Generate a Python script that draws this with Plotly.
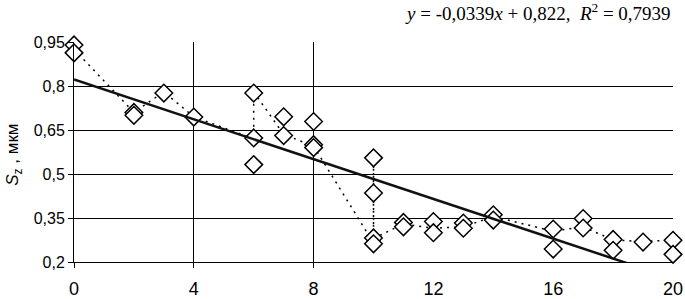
import plotly.graph_objects as go

# ---- data ----
pts_x = [0, 0, 2, 2, 3, 4, 6, 6, 6, 7, 7, 8, 8, 8, 10, 10, 10, 10,
         11, 11, 12, 12, 13, 13, 14, 14, 16, 16, 17, 17, 18, 18, 19, 20, 20]
pts_y = [0.94, 0.913, 0.71, 0.70, 0.776, 0.694, 0.776, 0.623, 0.532, 0.695, 0.631,
         0.679, 0.60, 0.59, 0.555, 0.435, 0.282, 0.262,
         0.335, 0.32, 0.338, 0.30, 0.333, 0.315, 0.361, 0.343,
         0.3125, 0.244, 0.348, 0.316, 0.277, 0.24, 0.268, 0.274, 0.226]

path_x = [0, 2, 3, 4, 6, 6, 7, 8, 10, 10, 10, 11, 12, 13, 14, 16, 17, 18, 19, 20]
path_y = [0.925, 0.71, 0.78, 0.695, 0.62, 0.78, 0.635, 0.595, 0.265, 0.555, 0.28,
          0.33, 0.315, 0.32, 0.355, 0.305, 0.32, 0.275, 0.27, 0.275]

slope = -0.0339
intercept = 0.822
r2 = 0.7939
trend_x = [0, 20]

x_tickvals = [0, 4, 8, 12, 16, 20]
x_ticktext = ["0", "4", "8", "12", "16", "20"]
y_tickvals = [0.2, 0.35, 0.5, 0.65, 0.8, 0.95]
y_ticktext = ["0,2", "0,35", "0,5", "0,65", "0,8", "0,95"]
x_gridvals = [0, 4, 8]

def fmt(v):
    return str(v).replace(".", ",")

trend_y = [slope * x + intercept for x in trend_x]

fig = go.Figure()
fig.add_trace(go.Scatter(x=path_x, y=path_y, mode="lines",
                         line=dict(color="black", width=1.5, dash="2px,5px"),
                         hoverinfo="skip", showlegend=False))
fig.add_trace(go.Scatter(x=pts_x, y=pts_y, mode="markers", cliponaxis=False,
                         marker=dict(symbol="diamond", size=13.5, color="white",
                                     line=dict(color="black", width=1.5)),
                         showlegend=False))
fig.add_trace(go.Scatter(x=trend_x, y=trend_y, mode="lines",
                         line=dict(color="#111111", width=2.5),
                         hoverinfo="skip", showlegend=False))

eq = ("<i>y</i> = " + fmt(slope) + "<i>x</i> + " + fmt(intercept) +
      ",&nbsp;&nbsp;<i>R</i><sup>2</sup> = " + fmt(r2))

fig.update_layout(
    width=685, height=299,
    margin=dict(l=74, r=12, t=42, b=37, autoexpand=False),
    paper_bgcolor="white", plot_bgcolor="white",
    font=dict(family="Liberation Sans, Arial", color="black"),
    xaxis=dict(range=[0, 20], tickmode="array", tickvals=x_tickvals, ticktext=x_ticktext,
               automargin=False,
               showgrid=False, zeroline=False, ticks="", ticklabelstandoff=10,
               showline=True, linecolor="black", linewidth=1,
               tickfont=dict(size=18, family="Liberation Sans, Arial"),
               minor=dict(tickmode="array", tickvals=x_gridvals, ticks="outside",
                          ticklen=5, tickcolor="black", tickwidth=1,
                          showgrid=True, gridcolor="black", gridwidth=1)),
    yaxis=dict(range=[0.2, 0.95], tickmode="array", tickvals=y_tickvals, ticktext=y_ticktext,
               automargin=False,
               showgrid=True, gridcolor="black", gridwidth=1, zeroline=False,
               ticks="outside", ticklen=5, tickcolor="black",
               showline=True, linecolor="black", linewidth=1,
               tickfont=dict(size=16, family="Liberation Sans, Arial")),
    annotations=[
        dict(text=eq, xref="paper", yref="paper", x=1.0, y=1.138,
             xanchor="right", yanchor="middle", showarrow=False,
             font=dict(family="Liberation Serif, Times New Roman", size=19, color="black")),
        dict(text="<i>S</i><sub>z</sub> , мкм", xref="paper", yref="paper",
             x=-0.1, y=0.488, xanchor="center", yanchor="middle", textangle=-90,
             showarrow=False, font=dict(family="Liberation Sans, Arial", size=17, color="black")),
    ],
)

fig.write_html("out.html",
               config={"displayModeBar": False},
               post_script="document.body.style.margin='0';document.body.style.overflow='hidden';")
